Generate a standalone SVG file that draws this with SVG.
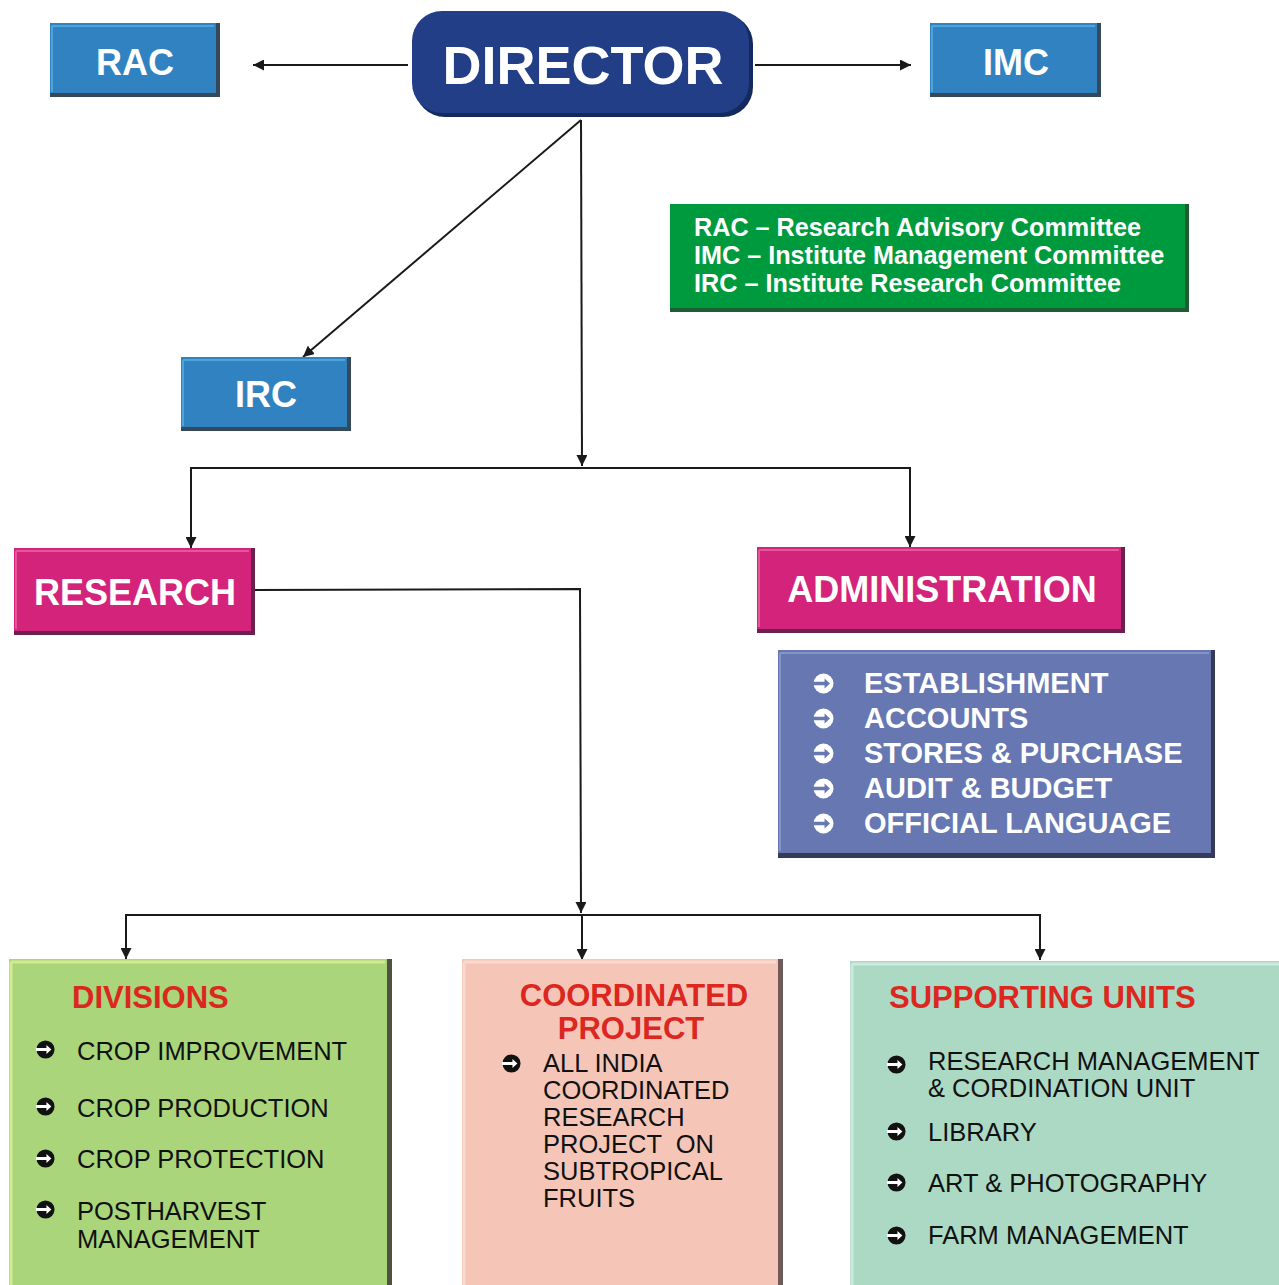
<svg xmlns="http://www.w3.org/2000/svg" xmlns:xlink="http://www.w3.org/1999/xlink" width="1279" height="1285" viewBox="0 0 1279 1285">
<style>
.t{font-family:"Liberation Sans",Arial,sans-serif}
.wb{font-family:"Liberation Sans",Arial,sans-serif;font-weight:bold;fill:#fff}
.rb{font-family:"Liberation Sans",Arial,sans-serif;font-weight:bold;fill:#dc2620;font-size:31px}
.it{font-family:"Liberation Sans",Arial,sans-serif;fill:#111;font-size:25.5px;white-space:pre}
.ad{font-family:"Liberation Sans",Arial,sans-serif;font-weight:bold;fill:#fff;font-size:29px}
.c{fill:none;stroke:#1a1a1a;stroke-width:2}
</style>
<defs>
<marker id="ah" viewBox="0 0 10 10" refX="10" refY="5" markerWidth="11" markerHeight="11" markerUnits="userSpaceOnUse" orient="auto">
<path d="M0,0 L10,5 L0,10 z" fill="#1a1a1a"/>
</marker>
<symbol id="bk" viewBox="-10 -10 20 20">
<circle r="9.5" fill="#111"/>
<path d="M-10,-1.6 H1 V-4.8 L6.2,0 L1,4.8 V1.6 H-10 z" fill="#fff"/>
</symbol>
<symbol id="bw" viewBox="-10 -10 20 20">
<circle r="9.5" fill="#fff"/>
<path d="M-10,-1.6 H1 V-4.8 L6.2,0 L1,4.8 V1.6 H-10 z" fill="#6677b2"/>
</symbol>
</defs>

<g id="connectors">
<line class="c" x1="408" y1="65" x2="253" y2="65" marker-end="url(#ah)"/>
<line class="c" x1="755" y1="65" x2="911" y2="65" marker-end="url(#ah)"/>
<line class="c" x1="581" y1="120" x2="303" y2="357" marker-end="url(#ah)"/>
<line class="c" x1="581" y1="120" x2="582" y2="466" marker-end="url(#ah)"/>
<polyline class="c" points="191,548 191,468 910,468 910,547"/>
<line class="c" x1="191" y1="500" x2="191" y2="548" marker-end="url(#ah)"/>
<line class="c" x1="910" y1="500" x2="910" y2="547" marker-end="url(#ah)"/>
<polyline class="c" points="254,590 580,589 581,913" marker-end="url(#ah)"/>
<polyline class="c" points="126,959 126,915 1040,915 1040,960"/>
<line class="c" x1="126" y1="930" x2="126" y2="959" marker-end="url(#ah)"/>
<line class="c" x1="1040" y1="930" x2="1040" y2="960" marker-end="url(#ah)"/>
<line class="c" x1="582" y1="915" x2="582" y2="960" marker-end="url(#ah)"/>
</g>

<g id="rac">
<rect x="50" y="23" width="170" height="74" fill="#34495c"/>
<rect x="50" y="23" width="166" height="70" fill="#3182c0"/>
<path d="M52,26 H214 M52,26 V92" stroke="#4ea3d8" stroke-width="2" fill="none"/>
<text class="wb" x="135" y="75" font-size="36" text-anchor="middle">RAC</text>
</g>

<g id="director">
<rect x="415" y="14" width="338" height="103" rx="30" fill="#142a5e"/>
<rect x="412" y="11" width="337" height="102" rx="30" fill="#213e87"/>
<text class="wb" x="583" y="84" font-size="54" text-anchor="middle">DIRECTOR</text>
</g>

<g id="imc">
<rect x="930" y="23" width="171" height="74" fill="#34495c"/>
<rect x="930" y="23" width="167" height="70" fill="#3182c0"/>
<path d="M932,26 H1095 M932,26 V92" stroke="#4ea3d8" stroke-width="2" fill="none"/>
<text class="wb" x="1016" y="75" font-size="36" text-anchor="middle">IMC</text>
</g>

<g id="legend">
<rect x="670" y="204" width="519" height="108" fill="#1f5b33"/>
<rect x="670" y="204" width="515" height="104" fill="#009a3e"/>
<text class="wb" x="694" y="236" font-size="25.2">RAC – Research Advisory Committee</text>
<text class="wb" x="694" y="264" font-size="25.2">IMC – Institute Management Committee</text>
<text class="wb" x="694" y="292" font-size="25.2">IRC – Institute Research Committee</text>
</g>

<g id="irc">
<rect x="181" y="357" width="170" height="74" fill="#34495c"/>
<rect x="181" y="357" width="166" height="70" fill="#3182c0"/>
<path d="M183,360 H345 M183,360 V426" stroke="#4ea3d8" stroke-width="2" fill="none"/>
<text class="wb" x="266" y="407" font-size="36" text-anchor="middle">IRC</text>
</g>

<g id="research">
<rect x="14" y="548" width="241" height="87" fill="#6c2050"/>
<rect x="14" y="548" width="237" height="83" fill="#d4237a"/>
<path d="M16,551 H249 M16,551 V629" stroke="#e2569a" stroke-width="2" fill="none"/>
<text class="wb" x="135" y="605" font-size="36" text-anchor="middle">RESEARCH</text>
</g>

<g id="administration">
<rect x="757" y="547" width="368" height="86" fill="#6c2050"/>
<rect x="757" y="547" width="364" height="82" fill="#d4237a"/>
<path d="M759,550 H1119 M759,550 V627" stroke="#e2569a" stroke-width="2" fill="none"/>
<text class="wb" x="942" y="602" font-size="36" text-anchor="middle">ADMINISTRATION</text>
</g>

<g id="admin-units">
<rect x="778" y="650" width="437" height="208" fill="#353a58"/>
<rect x="778" y="650" width="433" height="203" fill="#6677b2"/>
<path d="M780,653 H1209 M780,653 V851" stroke="#8593c6" stroke-width="2" fill="none"/>
<use xlink:href="#bw" x="813" y="673" width="21" height="21"/>
<use xlink:href="#bw" x="813" y="708" width="21" height="21"/>
<use xlink:href="#bw" x="813" y="743" width="21" height="21"/>
<use xlink:href="#bw" x="813" y="778" width="21" height="21"/>
<use xlink:href="#bw" x="813" y="813" width="21" height="21"/>
<text class="ad" x="864" y="693">ESTABLISHMENT</text>
<text class="ad" x="864" y="728">ACCOUNTS</text>
<text class="ad" x="864" y="763">STORES &amp; PURCHASE</text>
<text class="ad" x="864" y="798">AUDIT &amp; BUDGET</text>
<text class="ad" x="864" y="833">OFFICIAL LANGUAGE</text>
</g>

<g id="divisions">
<rect x="9" y="959" width="383" height="330" fill="#4f5242"/>
<rect x="9" y="959" width="378" height="330" fill="#aad57a"/>
<path d="M11,962 H385 M11,962 V1285" stroke="#d3ea8e" stroke-width="3" fill="none"/>
<text class="rb" x="72" y="1008">DIVISIONS</text>
<use xlink:href="#bk" x="36" y="1040" width="19" height="19"/>
<use xlink:href="#bk" x="36" y="1097" width="19" height="19"/>
<use xlink:href="#bk" x="36" y="1149" width="19" height="19"/>
<use xlink:href="#bk" x="36" y="1200" width="19" height="19"/>
<text class="it" x="77" y="1060">CROP IMPROVEMENT</text>
<text class="it" x="77" y="1117">CROP PRODUCTION</text>
<text class="it" x="77" y="1168">CROP PROTECTION</text>
<text class="it" x="77" y="1220">POSTHARVEST</text>
<text class="it" x="77" y="1248">MANAGEMENT</text>
</g>

<g id="coordinated">
<rect x="462" y="959" width="321" height="330" fill="#6f5a5a"/>
<rect x="462" y="959" width="316" height="330" fill="#f5c6b8"/>
<path d="M464,962 H776 M464,962 V1285" stroke="#f9d8ce" stroke-width="3" fill="none"/>
<text class="rb" x="634" y="1006" text-anchor="middle">COORDINATED</text>
<text class="rb" x="631" y="1039" text-anchor="middle">PROJECT</text>
<use xlink:href="#bk" x="502" y="1054" width="19" height="19"/>
<text class="it" x="543" y="1072">ALL INDIA</text>
<text class="it" x="543" y="1099">COORDINATED</text>
<text class="it" x="543" y="1126">RESEARCH</text>
<text class="it" x="543" y="1153">PROJECT  ON</text>
<text class="it" x="543" y="1180">SUBTROPICAL</text>
<text class="it" x="543" y="1207">FRUITS</text>
</g>

<g id="supporting">
<rect x="850" y="961" width="435" height="330" fill="#acd9c4"/>
<path d="M852,964 H1285 M852,964 V1285" stroke="#cbe9dc" stroke-width="3" fill="none"/>
<text class="rb" x="889" y="1008">SUPPORTING UNITS</text>
<use xlink:href="#bk" x="887" y="1055" width="19" height="19"/>
<use xlink:href="#bk" x="887" y="1122" width="19" height="19"/>
<use xlink:href="#bk" x="887" y="1173" width="19" height="19"/>
<use xlink:href="#bk" x="887" y="1226" width="19" height="19"/>
<text class="it" x="928" y="1070">RESEARCH MANAGEMENT</text>
<text class="it" x="928" y="1097">&amp; CORDINATION UNIT</text>
<text class="it" x="928" y="1141">LIBRARY</text>
<text class="it" x="928" y="1192">ART &amp; PHOTOGRAPHY</text>
<text class="it" x="928" y="1244">FARM MANAGEMENT</text>
</g>
</svg>
